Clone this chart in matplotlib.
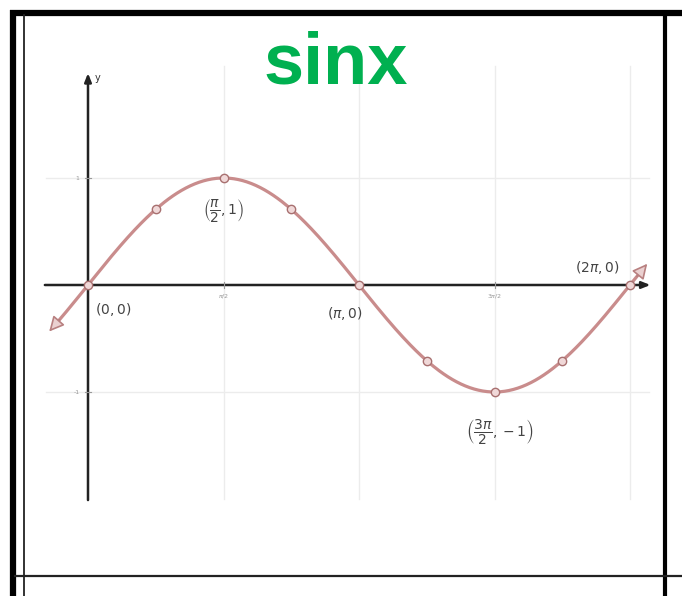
import numpy as np
import matplotlib.pyplot as plt

# curve samples and labelled points
x_start, x_end = -0.45, 2 * np.pi + 0.2
point_x = np.arange(9) * np.pi / 4
labels = [r"$(0,0)$", r"$\left(\dfrac{\pi}{2},1\right)$", r"$(\pi,0)$",
          r"$\left(\dfrac{3\pi}{2},-1\right)$", r"$(2\pi,0)$"]
label_pos = [(0.08, -0.23, "left"), (1.57, 0.70, "center"), (2.98, -0.27, "center"),
             (4.78, -1.37, "center"), (5.9, 0.16, "center")]
label_size = [10, 10, 10, 10, 10]
xtick_pos = [np.pi / 2, 3 * np.pi / 2]
xtick_lab = [r"$\pi/2$", r"$3\pi/2$"]
ytick_pos = [1, -1]
ytick_lab = ["1", "-1"]

curve_col = "#c98c8c"
W, H = 682, 596
fig = plt.figure(figsize=(W / 100, H / 100), dpi=100, facecolor="white")

# frame of the table cell
bg = fig.add_axes([0, 0, 1, 1])
bg.set_xlim(0, W)
bg.set_ylim(H, 0)
bg.axis("off")
bg.plot([10, W], [13, 13], color="black", lw=4.5, solid_capstyle="butt")
bg.plot([13, 13], [10, H], color="black", lw=4.5, solid_capstyle="butt")
bg.plot([24, 24], [15, H], color="#222222", lw=1.3)
bg.plot([665, 665], [15, H], color="black", lw=3)
bg.plot([15, W], [576, 576], color="#222222", lw=1.6)

# graph area: 271 px per pi on x, 107 px per unit on y, origin at (88, 285)
px_x, px_y = 271 / np.pi, 107
left, right, top, bottom = 30, 660, 40, 520
ax = fig.add_axes([left / W, (H - bottom) / H, (right - left) / W, (bottom - top) / H])
ax.set_xlim((left - 88) / px_x, (right - 88) / px_x)
ax.set_ylim((285 - bottom) / px_y, (285 - top) / px_y)
ax.axis("off")
ax.patch.set_alpha(0)

# grid
for gx in [np.pi / 2, np.pi, 3 * np.pi / 2, 2 * np.pi]:
    ax.plot([gx, gx], [-2.0, 2.05], color="#ececec", lw=1, zorder=1)
for gy in ytick_pos:
    ax.plot([-0.49, 6.5], [gy, gy], color="#ececec", lw=1, zorder=1)

# axes with arrows
ax.annotate("", xy=(6.52, 0), xytext=(-0.5, 0),
            arrowprops=dict(arrowstyle="-|>,head_length=0.5,head_width=0.2",
                            color="#222222", lw=1.8, shrinkA=0, shrinkB=0), zorder=2)
ax.annotate("", xy=(0, 1.98), xytext=(0, -2.01),
            arrowprops=dict(arrowstyle="-|>,head_length=0.5,head_width=0.2",
                            color="#222222", lw=1.8, shrinkA=0, shrinkB=0), zorder=2)
ax.text(0.08, 1.93, "y", fontsize=7, color="#333333", ha="left", va="center")

for tx, tl in zip(xtick_pos, xtick_lab):
    ax.plot([tx, tx], [-0.03, 0.03], color="#999999", lw=0.8)
    ax.text(tx, -0.1, tl, fontsize=4.5, color="#999999", ha="center", va="center")
for ty, tl in zip(ytick_pos, ytick_lab):
    ax.plot([-0.04, 0.04], [ty, ty], color="#999999", lw=0.8)
    ax.text(-0.1, ty, tl, fontsize=4.5, color="#999999", ha="right", va="center")

# sine curve with arrowheads at both ends
xs = np.linspace(x_start + 0.1, x_end - 0.1, 400)
ax.plot(xs, np.sin(xs), color=curve_col, lw=2.3, zorder=3, solid_capstyle="round")
arrow_kw = dict(arrowstyle="-|>,head_length=0.9,head_width=0.45", lw=1.2,
                fc="#ead0d0", ec="#b88080", shrinkA=0, shrinkB=0)
ax.annotate("", xy=(x_start, np.sin(x_start)), xytext=(x_start + 0.12, np.sin(x_start + 0.12)),
            arrowprops=arrow_kw, zorder=4)
ax.annotate("", xy=(x_end, np.sin(x_end)), xytext=(x_end - 0.12, np.sin(x_end - 0.12)),
            arrowprops=arrow_kw, zorder=4)

ax.plot(point_x, np.sin(point_x), "o", ms=6, mfc="#f0d8d8", mec="#a87070", mew=1, zorder=5)

for lab, (lx, ly, ha), fs in zip(labels, label_pos, label_size):
    ax.text(lx, ly, lab, fontsize=fs, color="#444444", ha=ha, va="center", zorder=6)

# title sits above the grid
fig.text(336 / W, 1 - 64 / H, "sinx", color="#00b050", fontsize=52, fontweight="bold",
         family="Liberation Sans", ha="center", va="center")

fig.savefig("out.png", dpi=100, facecolor="white")
